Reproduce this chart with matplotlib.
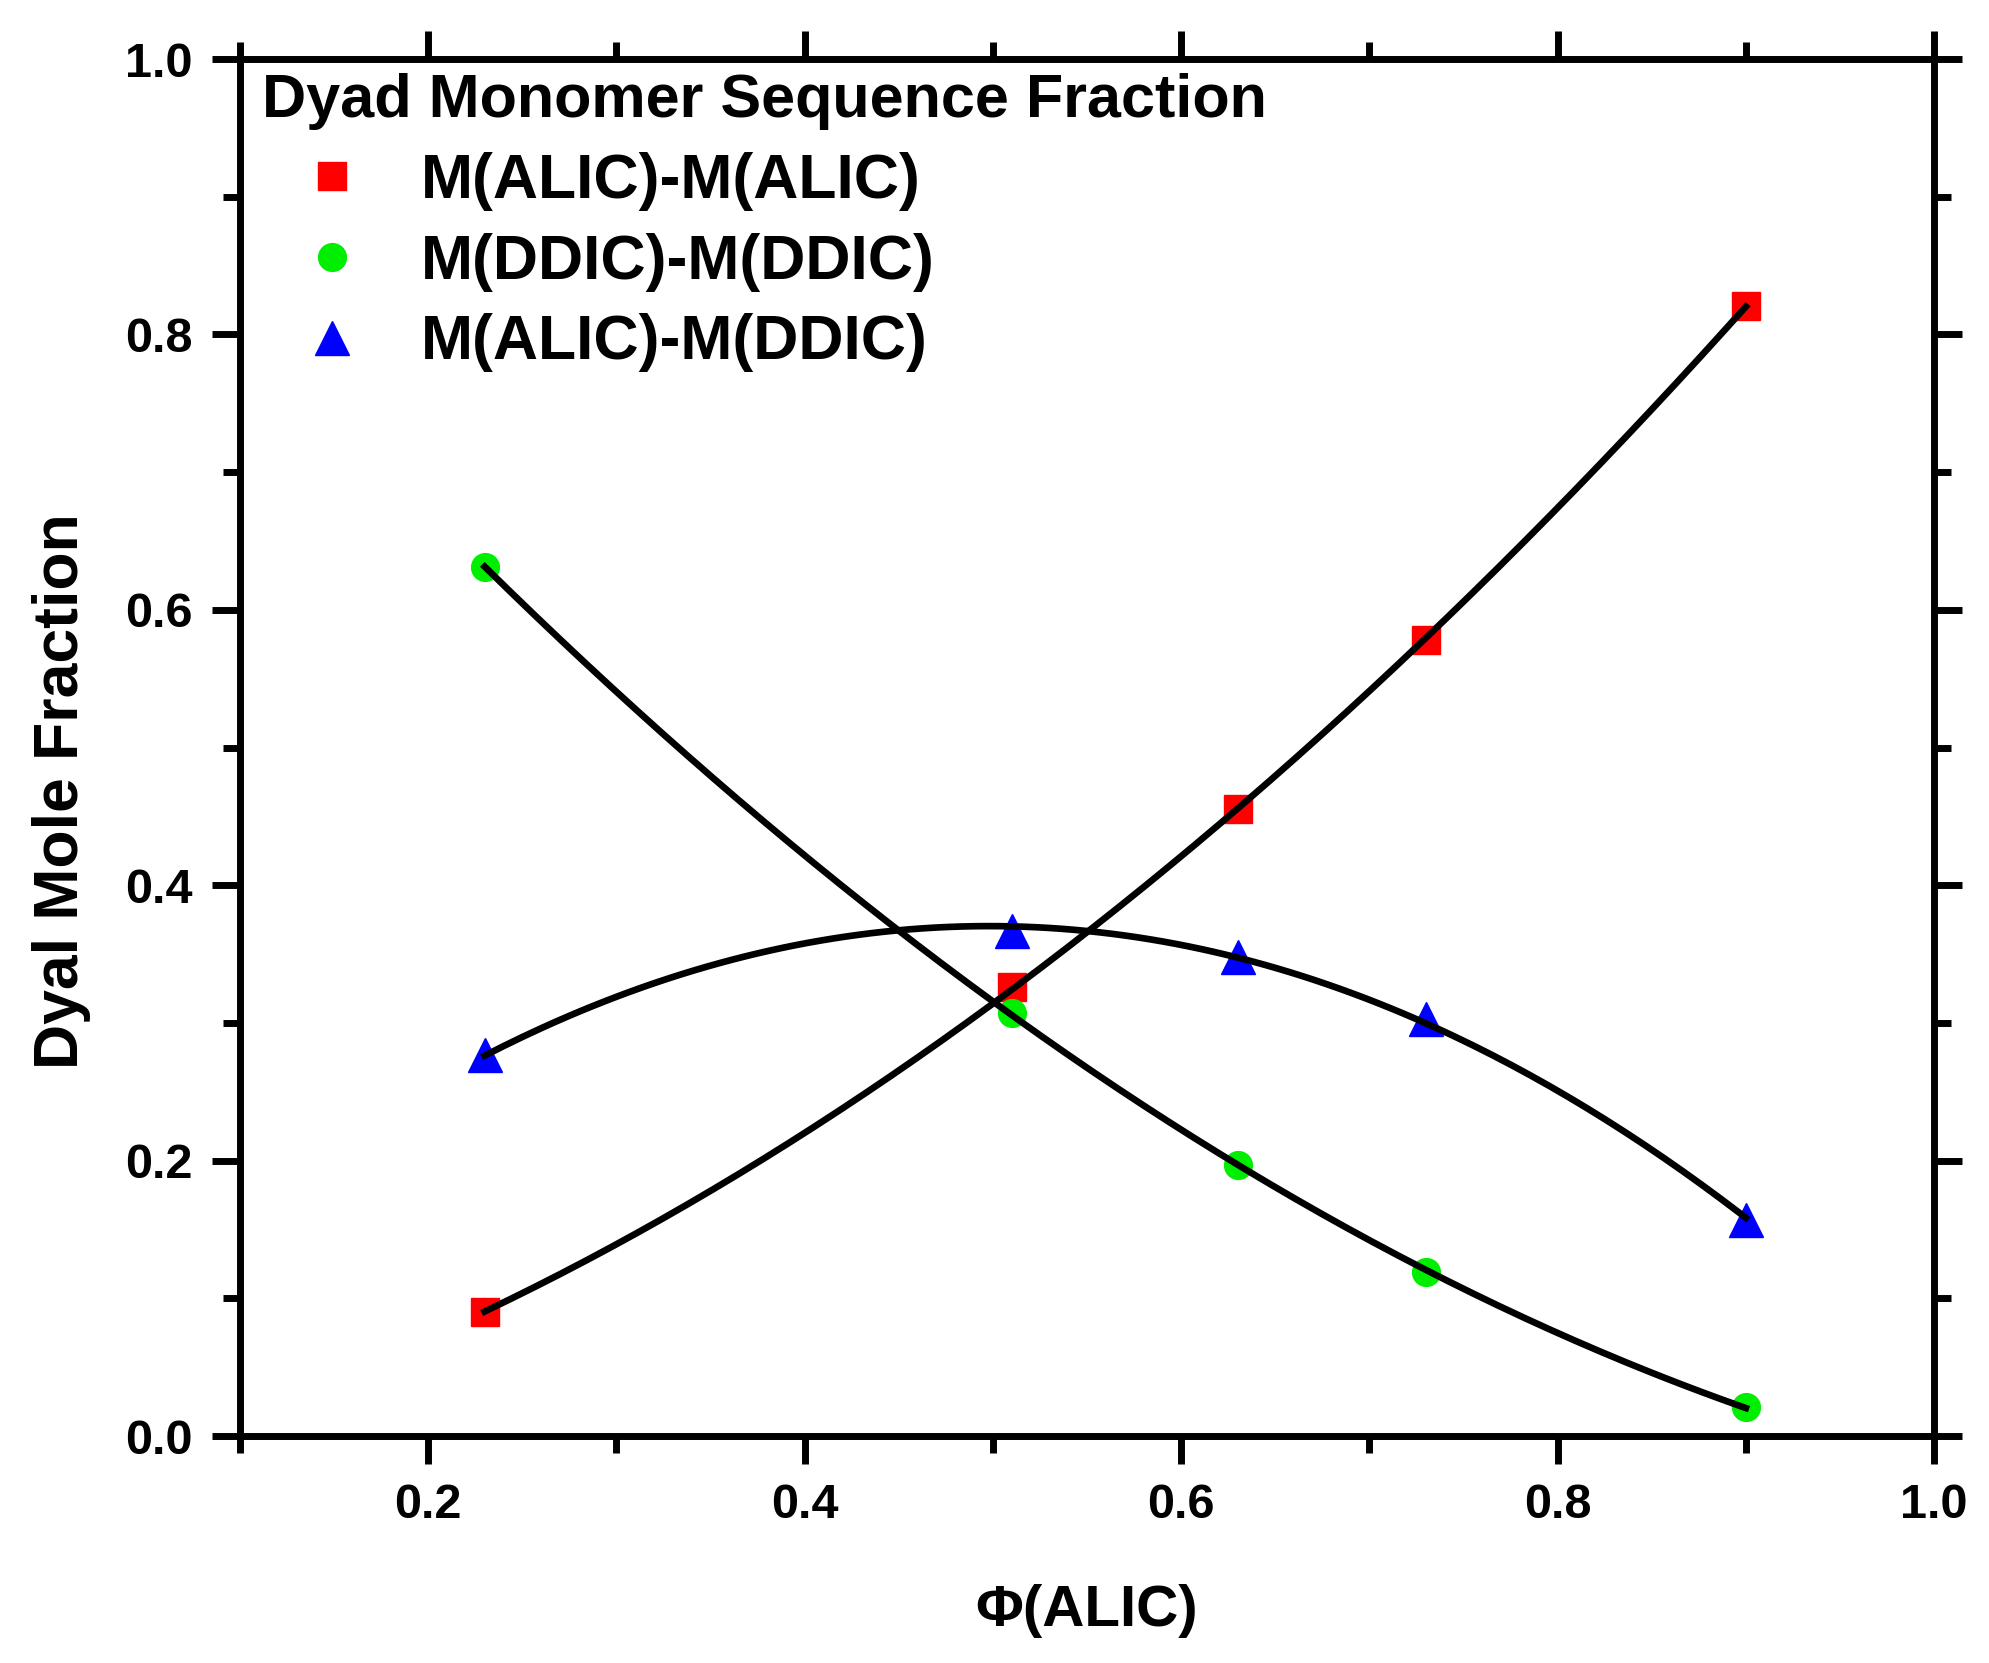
import numpy as np
import matplotlib
matplotlib.use("Agg")
import matplotlib.pyplot as plt
from matplotlib.ticker import MultipleLocator

plt.rcParams['font.family'] = ['Liberation Sans', 'DejaVu Sans']
plt.rcParams['font.weight'] = 'bold'

# volume fraction of ALIC
phi = [0.23, 0.51, 0.63, 0.73, 0.90]
# dyad mole fractions
aa = [0.090, 0.326, 0.455, 0.578, 0.821]
dd = [0.631, 0.307, 0.197, 0.119, 0.021]
ad = [0.277, 0.367, 0.348, 0.303, 0.157]

labels = ["M(ALIC)-M(ALIC)", "M(DDIC)-M(DDIC)", "M(ALIC)-M(DDIC)"]
colors = ["#ff0000", "#00ee00", "#0000ff"]
markers = ["s", "o", "^"]

fig = plt.figure(figsize=(19.9, 16.63), dpi=100)
ax = fig.add_axes([0.1206, 0.1365, 0.8513, 0.828])

xx = np.linspace(min(phi), max(phi), 200)
for y, c, m, lab in zip([aa, dd, ad], colors, markers, labels):
    ms = 24 if m == "^" else 20
    ax.plot(phi, y, ls="none", marker=m, ms=ms, color=c, mec=c, label=lab, zorder=3)
    # ajuste polinomial de 2do orden
    p = np.polyfit(phi, y, 2)
    ax.plot(xx, np.polyval(p, xx), color="k", lw=4.8, zorder=4)

ax.set_xlim(0.1, 1.0)
ax.set_ylim(0.0, 1.0)
ax.xaxis.set_major_locator(MultipleLocator(0.2))
ax.xaxis.set_minor_locator(MultipleLocator(0.1))
ax.yaxis.set_major_locator(MultipleLocator(0.2))
ax.yaxis.set_minor_locator(MultipleLocator(0.1))
ax.xaxis.set_major_formatter(plt.FormatStrFormatter("%.1f"))
ax.yaxis.set_major_formatter(plt.FormatStrFormatter("%.1f"))

for s in ax.spines.values():
    s.set_linewidth(5)
ax.tick_params(which="both", direction="out", top=True, right=True, width=5)
ax.tick_params(which="major", length=20, labelsize=35, pad=14)
ax.tick_params(which="minor", length=12)

ax.set_xlabel("Φ(ALIC)", fontsize=42, fontweight="bold", labelpad=40)
ax.set_ylabel("Dyal Mole Fraction", fontsize=45, fontweight="bold")
ax.yaxis.set_label_coords(-0.088, 0.468)

leg = ax.legend(title="Dyad Monomer Sequence Fraction", loc="upper left",
                bbox_to_anchor=(0.013, 0.99), frameon=False, fontsize=45,
                title_fontproperties={"size": 44, "weight": "bold"},
                alignment="left", handletextpad=0.3, labelspacing=0.35,
                borderpad=0, borderaxespad=0, handlelength=2.24)

fig.savefig("out.png", dpi=100)
